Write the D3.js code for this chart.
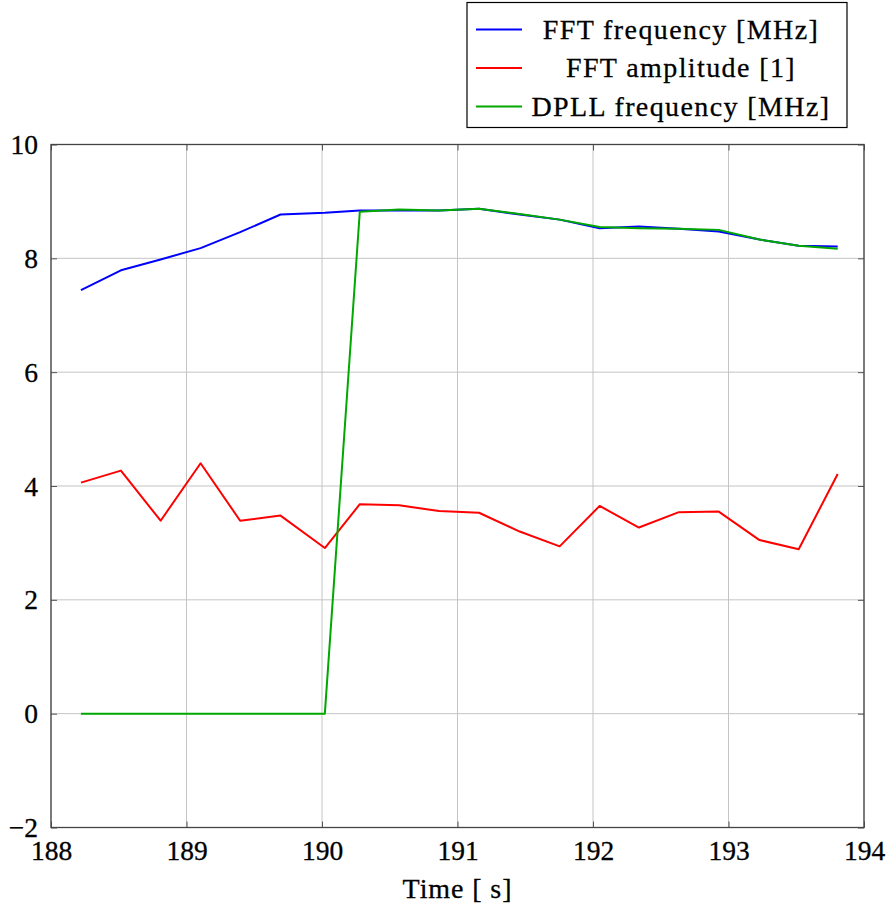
<!DOCTYPE html>
<html>
<head>
<meta charset="utf-8">
<script src="https://cdn.jsdelivr.net/npm/d3@7"></script>
<style>
  html, body { margin: 0; padding: 0; background: #fff; }
  svg { display: block; }
</style>
</head>
<body>
<svg id="chart" width="890" height="915"></svg>
<script>
const time = [188.221, 188.516, 188.809, 189.104, 189.396, 189.694, 190.021, 190.279, 190.569, 190.864,
              191.159, 191.459, 191.754, 192.049, 192.339, 192.634, 192.928, 193.229, 193.518, 193.806];
const fftFrequency = [7.44, 7.79, 7.98, 8.18, 8.46, 8.77, 8.80, 8.84, 8.84, 8.84,
                      8.87, 8.77, 8.68, 8.53, 8.56, 8.52, 8.47, 8.33, 8.22, 8.21];
const fftAmplitude = [4.06, 4.27, 3.39, 4.40, 3.39, 3.48, 2.91, 3.68, 3.66, 3.56,
                      3.53, 3.20, 2.94, 3.65, 3.27, 3.54, 3.55, 3.05, 2.89, 4.21];
const dpllFrequency = [0, 0, 0, 0, 0, 0, 0, 8.82, 8.86, 8.84,
                       8.87, 8.78, 8.68, 8.55, 8.53, 8.52, 8.50, 8.33, 8.22, 8.17];
const xTicks = [188, 189, 190, 191, 192, 193, 194];
const yTicks = [-2, 0, 2, 4, 6, 8, 10];
const seriesNames = ["FFT frequency [MHz]", "FFT amplitude [1]", "DPLL frequency [MHz]"];
const seriesColors = ["#0000ff", "#ff0000", "#00a800"];
const xLabel = "Time [ s]";

(function () {
const FONT = '"Liberation Serif", "Times New Roman", serif';
const svg = d3.select("#chart");
const pL = 51, pR = 864, pT = 144.5, pB = 827.5;
const x = d3.scaleLinear().domain([188, 194]).range([pL, pR]);
const y = d3.scaleLinear().domain([-2, 10]).range([pB, pT]);

function styleText(sel, size, spacing) {
  sel.attr("font-family", FONT).style("font-family", FONT)
    .style("font-size", size + "px")
    .style("letter-spacing", (spacing || 0) + "px")
    .attr("fill", "#000").attr("stroke", "#000").attr("stroke-width", 0.3);
}

// grid
const grid = svg.append("g");
grid.selectAll(".gx").data(xTicks).join("line")
  .attr("x1", d => x(d)).attr("x2", d => x(d)).attr("y1", pT).attr("y2", pB)
  .attr("stroke", "#c4c4c4").attr("stroke-width", 1);
grid.selectAll(".gy").data(yTicks).join("line")
  .attr("y1", d => y(d)).attr("y2", d => y(d)).attr("x1", pL).attr("x2", pR)
  .attr("stroke", "#c4c4c4").attr("stroke-width", 1);

// axes (inward ticks)
const tickLen = 6;
const fmt = d3.format("d");
const axB = svg.append("g").attr("transform", `translate(0,${pB})`)
  .call(d3.axisBottom(x).tickValues(xTicks).tickFormat(fmt).tickSizeInner(-tickLen).tickSizeOuter(0).tickPadding(13));
const axT = svg.append("g").attr("transform", `translate(0,${pT})`)
  .call(d3.axisTop(x).tickValues(xTicks).tickFormat("").tickSizeInner(-tickLen).tickSizeOuter(0));
const axL = svg.append("g").attr("transform", `translate(${pL},0)`)
  .call(d3.axisLeft(y).tickValues(yTicks).tickFormat(fmt).tickSizeInner(-tickLen).tickSizeOuter(0).tickPadding(13));
const axR = svg.append("g").attr("transform", `translate(${pR},0)`)
  .call(d3.axisRight(y).tickValues(yTicks).tickFormat("").tickSizeInner(-tickLen).tickSizeOuter(0));
[axB, axT, axL, axR].forEach(a => {
  a.select(".domain").remove();
  a.selectAll(".tick line").attr("stroke", "#555").attr("stroke-width", 1);
  styleText(a.selectAll("text"), 27.5, 0);
});
axB.selectAll("text").attr("dy", "0.71em");
axL.selectAll("text").attr("dy", "0.33em");

// series
const line = d3.line().x(d => x(d[0])).y(d => y(d[1]));
const series = [fftFrequency, fftAmplitude, dpllFrequency];
const plot = svg.append("g");
series.forEach((vals, i) => {
  plot.append("path")
    .datum(time.map((t, j) => [t, vals[j]]))
    .attr("d", line)
    .attr("fill", "none")
    .attr("stroke", seriesColors[i])
    .attr("stroke-width", 2)
    .attr("stroke-linejoin", "round");
});

// frame
svg.append("rect").attr("x", pL).attr("y", pT).attr("width", pR - pL).attr("height", pB - pT)
  .attr("fill", "none").attr("stroke", "#444").attr("stroke-width", 1.3);

// x label
styleText(svg.append("text").attr("x", (pL + pR) / 2).attr("y", 898).attr("text-anchor", "middle").text(xLabel), 28, 0.9);

// legend
const lg = svg.append("g");
lg.append("rect").attr("x", 467).attr("y", 2.5).attr("width", 380).attr("height", 125)
  .attr("fill", "#fff").attr("stroke", "#000").attr("stroke-width", 1.2);
const rowY = [29.5, 68, 106.5];
seriesNames.forEach((name, i) => {
  lg.append("line").attr("x1", 476).attr("x2", 522).attr("y1", rowY[i]).attr("y2", rowY[i])
    .attr("stroke", seriesColors[i]).attr("stroke-width", 2);
  styleText(lg.append("text").attr("x", 681).attr("y", rowY[i]).attr("dy", "0.33em")
    .attr("text-anchor", "middle").text(name), 28, 1.4);
});
})();
</script>
</body>
</html>
